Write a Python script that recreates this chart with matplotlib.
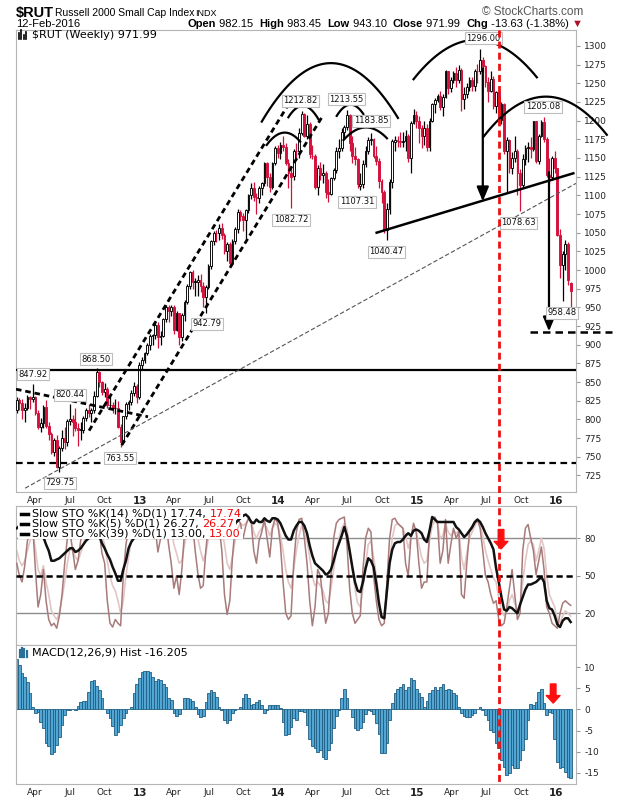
import numpy as np
import pandas as pd
import matplotlib
matplotlib.use("Agg")
import matplotlib.pyplot as plt
import matplotlib.dates as mdates
from matplotlib.lines import Line2D
from matplotlib.patches import Rectangle
from matplotlib.transforms import blended_transform_factory

plt.rcParams['font.family'] = ['DejaVu Sans']
plt.rcParams['axes.unicode_minus'] = False

# weekly $RUT candles (Feb 2012 .. 12 Feb 2016)
opens = [
    812, 826, 822, 812, 815, 830, 827, 830, 808, 790,
    795, 817, 791, 781, 756, 772, 737, 762, 775, 770,
    798, 800, 797, 788, 786, 786, 802, 812, 808, 812,
    832, 864, 850, 837, 841, 819, 820, 815, 816, 790,
    770, 804, 821, 823, 836, 845, 830, 873, 880, 889,
    900, 912, 913, 926, 911, 912, 934, 951, 945, 951,
    920, 942, 910, 940, 957, 979, 998, 984, 984, 986,
    979, 964, 977, 1006, 1039, 1050, 1049, 1056, 1047, 1025,
    1035, 1010, 1039, 1055, 1078, 1073, 1067, 1080, 1100, 1110,
    1098, 1096, 1110, 1116, 1143, 1125, 1111, 1143, 1164, 1156,
    1167, 1165, 1143, 1130, 1126, 1160, 1159, 1183, 1209, 1180,
    1195, 1152, 1153, 1111, 1137, 1127, 1130, 1105, 1102, 1123,
    1134, 1160, 1163, 1185, 1191, 1208, 1170, 1152, 1148, 1112,
    1115, 1142, 1159, 1174, 1175, 1153, 1146, 1119, 1104, 1053,
    1082, 1118, 1172, 1174, 1173, 1172, 1173, 1180, 1150, 1197,
    1207, 1200, 1190, 1180, 1190, 1165, 1200, 1222, 1228, 1233,
    1218, 1232, 1266, 1243, 1254, 1264, 1254, 1268, 1229, 1236,
    1245, 1254, 1246, 1267, 1266, 1281, 1273, 1252, 1240, 1256,
    1219, 1238, 1201, 1222, 1159, 1174, 1137, 1150, 1160, 1130,
    1114, 1149, 1163, 1165, 1162, 1199, 1146, 1180, 1198, 1175,
    1127, 1125, 1150, 1136, 1047, 1007, 1021, 1035, 982.15]

highs = [
    830, 829, 827, 822, 833, 832, 847.92, 832, 813, 802,
    820, 826, 797, 783, 775, 779, 765, 786, 790, 800,
    820.44, 806, 815, 795, 797, 805, 815, 821, 816, 838,
    868.5, 865, 852, 849, 843, 834, 823, 828, 825, 794,
    805, 823, 826, 840, 850, 848, 877, 884, 890, 903,
    915, 914, 930, 930, 919, 936, 953, 953, 953, 953,
    945, 943, 942, 960, 981, 999, 1000, 990, 994, 995,
    984, 980, 1008, 1040, 1052, 1054, 1062, 1063, 1050, 1037,
    1038, 1041, 1057, 1082, 1080, 1077, 1082, 1102, 1116, 1118,
    1103, 1112, 1118, 1144, 1145, 1130, 1145, 1166, 1168, 1172,
    1180, 1170, 1148, 1136, 1162, 1170, 1190, 1212.82, 1210, 1208,
    1198, 1168, 1155, 1140, 1145, 1142, 1133, 1122, 1125, 1136,
    1165, 1175, 1190, 1194, 1213.55, 1209, 1180, 1165, 1150, 1130,
    1147, 1166, 1178, 1183.85, 1177, 1166, 1150, 1122, 1107, 1090,
    1122, 1175, 1180, 1180, 1185, 1185, 1188, 1182, 1200, 1216,
    1213, 1206, 1194, 1200, 1195, 1204, 1224, 1230, 1236, 1240,
    1235, 1268, 1267, 1258, 1267, 1272, 1275, 1270, 1245, 1251,
    1259, 1258, 1269, 1276, 1296, 1285, 1275, 1258, 1266, 1260,
    1240, 1240, 1225, 1224, 1178, 1176, 1158, 1180, 1162, 1135,
    1155, 1168, 1172, 1178, 1200, 1200, 1182, 1201, 1205.08, 1178,
    1150, 1152, 1160, 1137, 1055, 1025, 1040, 1037, 983.45]

lows = [
    808, 812, 801, 796, 813, 814, 824, 806, 787, 783,
    788, 789, 773, 754, 751, 735, 729.75, 758, 760, 765,
    793, 778, 785, 765, 772, 782, 798, 803, 796, 808,
    830, 843, 833, 830, 815, 815, 809, 807, 789, 763.55,
    768, 800, 813, 820, 832, 822, 828, 866, 876, 886,
    893, 900, 908, 895, 900, 910, 930, 930, 938, 915,
    918, 899, 905, 932, 955, 975, 975, 965, 965, 970,
    950, 942.79, 974, 1002, 1034, 1038, 1040, 1042, 1022, 1012,
    1007, 1008, 1035, 1050, 1065, 1052, 1040, 1077, 1095, 1093,
    1075, 1090, 1100, 1112, 1112, 1105, 1108, 1141, 1150, 1148,
    1160, 1140, 1110, 1082.72, 1120, 1150, 1150, 1181, 1178, 1176,
    1150, 1148, 1108, 1100, 1120, 1117, 1096, 1091, 1100, 1120,
    1130, 1150, 1160, 1175, 1188, 1160, 1143, 1140, 1110, 1107.31,
    1110, 1138, 1155, 1167, 1150, 1140, 1110, 1090, 1050, 1040.47,
    1075, 1110, 1160, 1165, 1165, 1165, 1160, 1145, 1130, 1195,
    1190, 1170, 1164, 1168, 1160, 1160, 1198, 1210, 1225, 1214,
    1206, 1230, 1235, 1238, 1250, 1245, 1250, 1213, 1215, 1230,
    1240, 1240, 1240, 1250, 1262, 1265, 1245, 1225, 1238, 1215,
    1210, 1195, 1195, 1155, 1103, 1130, 1128, 1145, 1100, 1078.63,
    1110, 1140, 1145, 1150, 1160, 1143, 1142, 1178, 1172, 1125,
    1115, 1120, 1130, 1045, 990, 958.48, 1000, 980, 943.10]

closes = [
    826, 822, 812, 815, 830, 827, 830, 808, 790, 795,
    817, 791, 781, 756, 772, 737, 762, 775, 770, 798,
    800, 797, 788, 786, 786, 802, 812, 808, 812, 832,
    864, 850, 837, 841, 819, 820, 815, 816, 790, 770,
    804, 821, 823, 836, 845, 830, 873, 880, 889, 900,
    912, 913, 926, 911, 912, 934, 951, 945, 951, 920,
    942, 910, 940, 957, 979, 998, 984, 984, 986, 979,
    964, 977, 1006, 1039, 1050, 1049, 1056, 1047, 1025, 1035,
    1010, 1039, 1055, 1078, 1073, 1067, 1080, 1100, 1110, 1098,
    1096, 1110, 1116, 1143, 1125, 1111, 1143, 1164, 1156, 1167,
    1165, 1143, 1130, 1124, 1160, 1159, 1183, 1209, 1180, 1195,
    1155, 1153, 1111, 1137, 1127, 1130, 1105, 1102, 1123, 1134,
    1160, 1163, 1185, 1191, 1208, 1170, 1152, 1148, 1115, 1115,
    1142, 1159, 1174, 1175, 1153, 1146, 1119, 1104, 1053, 1082,
    1118, 1173, 1174, 1173, 1172, 1173, 1180, 1150, 1197, 1207,
    1200, 1190, 1180, 1190, 1165, 1200, 1222, 1228, 1233, 1218,
    1232, 1266, 1243, 1254, 1264, 1254, 1268, 1229, 1236, 1245,
    1254, 1246, 1267, 1266, 1281, 1273, 1252, 1240, 1256, 1219,
    1238, 1201, 1222, 1159, 1174, 1137, 1150, 1160, 1130, 1114,
    1149, 1163, 1165, 1162, 1199, 1146, 1180, 1198, 1175, 1127,
    1125, 1150, 1136, 1047, 1007, 1021, 1035, 986, 971.99]

# slow stochastics
sto_k39 = [
    88, 90, 88, 86, 88, 90, 92, 88, 84, 82,
    81, 75, 70, 62, 62, 63, 64, 66, 68, 70,
    72, 72, 69, 70, 72, 75, 78, 80, 84, 88,
    88, 82, 76, 72, 67, 63, 57, 52, 46, 46,
    55, 62, 72, 77, 80, 84, 88, 92, 94, 95,
    96, 96, 97, 96, 95, 96, 97, 96, 95, 90,
    88, 86, 87, 90, 93, 95, 94, 86, 90, 93,
    94, 96, 97, 99, 98, 96, 96, 95, 90, 87,
    85, 88, 92, 94, 96, 98, 99, 97, 93, 92,
    95, 93, 93, 96, 94, 93, 96, 96, 95, 92,
    87, 82, 79, 79, 86, 90, 93, 93, 90, 84,
    74, 66, 60, 58, 56, 54, 51, 52, 55, 62,
    70, 76, 82, 89, 82, 70, 57, 45, 38, 37,
    45, 56, 64, 62, 57, 44, 28, 17, 16, 38,
    60, 71, 76, 77, 77, 79, 82, 84, 82, 86,
    87, 86, 84, 79, 77, 86, 97, 95, 93, 93,
    93, 93, 93, 93, 93, 89, 87, 84, 81, 83,
    86, 89, 93, 95, 93, 89, 84, 80, 76, 71,
    56, 45, 33, 23, 22, 25, 24, 22, 20, 27,
    33, 39, 43, 43, 44, 45, 47, 49, 45, 30,
    24, 23, 18, 11, 9, 14, 16, 16, 13.00]

sto_k14 = [
    70, 62, 58, 62, 70, 78, 85, 72, 55, 50,
    58, 45, 35, 22, 18, 15, 20, 32, 45, 60,
    72, 70, 65, 62, 68, 75, 82, 85, 88, 92,
    95, 90, 82, 75, 62, 50, 42, 38, 30, 20,
    30, 50, 65, 78, 85, 88, 92, 95, 96, 97,
    96, 94, 92, 88, 85, 88, 92, 90, 88, 75,
    68, 60, 62, 75, 85, 92, 94, 88, 80, 70,
    62, 68, 80, 90, 95, 96, 94, 88, 75, 60,
    55, 65, 78, 88, 92, 90, 92, 95, 94, 85,
    80, 85, 88, 92, 88, 82, 88, 92, 90, 82,
    70, 55, 45, 40, 55, 70, 82, 90, 85, 78,
    65, 50, 42, 45, 42, 38, 30, 28, 40, 55,
    70, 80, 88, 92, 88, 72, 55, 40, 28, 25,
    40, 60, 75, 78, 65, 50, 32, 18, 15, 35,
    60, 80, 90, 92, 90, 88, 82, 72, 80, 88,
    85, 75, 65, 60, 62, 78, 90, 94, 92, 80,
    82, 92, 85, 82, 86, 84, 86, 65, 55, 68,
    80, 85, 90, 94, 90, 82, 70, 62, 55, 48,
    45, 32, 22, 18, 22, 30, 35, 28, 22, 25,
    45, 62, 75, 78, 75, 62, 70, 80, 72, 50,
    35, 30, 25, 15, 12, 18, 22, 20, 17.74]

sto_k5 = [
    60, 50, 45, 58, 78, 85, 90, 55, 25, 35,
    55, 30, 15, 10, 12, 8, 18, 35, 60, 80,
    85, 70, 55, 62, 78, 88, 90, 88, 85, 92,
    96, 85, 68, 60, 30, 12, 9, 15, 12, 10,
    50, 75, 88, 90, 95, 88, 95, 97, 98, 98,
    96, 90, 88, 69, 80, 92, 95, 75, 60, 40,
    50, 35, 55, 85, 95, 98, 92, 70, 52, 40,
    42, 70, 92, 97, 96, 95, 90, 70, 35, 19,
    30, 65, 90, 95, 92, 80, 90, 96, 94, 70,
    60, 78, 85, 95, 80, 65, 88, 96, 92, 75,
    45, 20, 15, 18, 60, 85, 95, 96, 80, 60,
    30, 10, 25, 55, 50, 30, 12, 20, 50, 80,
    92, 95, 96, 97, 75, 40, 20, 12, 15, 18,
    55, 80, 88, 85, 50, 30, 15, 10, 12, 45,
    80, 95, 96, 92, 90, 88, 60, 50, 80, 92,
    85, 60, 40, 45, 45, 85, 95, 97, 92, 60,
    70, 95, 60, 75, 88, 80, 85, 35, 32, 60,
    85, 88, 92, 95, 88, 70, 50, 45, 35, 28,
    30, 15, 10, 12, 25, 40, 55, 35, 15, 20,
    70, 88, 91, 80, 70, 51, 62, 73, 55, 25,
    20, 12, 10, 8, 20, 28, 30, 28, 26.27]

# MACD(12,26,9) histogram
macd_hist = [
    12.0, 10.5, 8.5, 7.7, 6.5, 3.8, 0.6, -0.8, -0.6, -2.9,
    -4.3, -8.0, -8.7, -10.6, -10.0, -8.4, -6.6, -3.7, -1.3, -0.2,
    -0.2, 0.2, -0.2, 0.8, 1.8, 2.0, 2.0, 4.0, 6.8, 6.9,
    5.6, 4.6, 2.6, 0.2, -0.9, -2.0, -3.9, -6.1, -5.3, -3.7,
    -2.1, -0.9, 0.2, 0.6, 3.8, 6.1, 7.3, 8.9, 9.1, 9.1,
    8.9, 7.7, 6.8, 7.1, 6.9, 6.0, 5.4, 2.8, 2.2, -0.9,
    -1.6, -1.1, 0.2, 2.6, 2.6, 2.4, 2.0, 0.6, -1.1, -1.9,
    -1.6, 1.8, 3.8, 4.6, 4.2, 3.0, 0.6, -0.2, -2.4, -3.3,
    -2.5, -0.8, -0.2, 0.2, 0.6, 2.6, 3.6, 2.6, 1.0, 1.3,
    1.8, 2.2, 1.0, -0.8, -0.2, 1.0, 1.0, 1.0, 1.0, 0.3,
    -2.9, -6.1, -5.8, -4.1, -2.0, -2.5, -0.4, -0.3, -0.6, -3.7,
    -6.9, -8.7, -9.2, -10.0, -9.6, -11.2, -11.6, -9.6, -8.0, -4.5,
    -1.6, -0.2, 2.6, 4.7, 2.6, 0.2, -1.7, -4.5, -4.9, -4.3,
    -2.9, -1.1, -0.2, -0.3, -1.1, -3.3, -5.7, -10.4, -10.4, -8.0,
    -2.5, 1.4, 3.8, 4.7, 5.4, 6.1, 4.6, 5.4, 7.3, 6.9,
    4.7, 3.8, 3.0, 0.6, 2.0, 3.8, 4.6, 5.2, 4.6, 5.4,
    6.1, 4.6, 4.7, 4.6, 3.8, 3.4, 0.6, -0.8, -1.6, -1.9,
    -1.9, -1.3, -0.9, 0.2, 0.6, -0.2, -1.3, -2.5, -4.9, -5.3,
    -8.0, -9.0, -12.0, -13.5, -15.5, -15.1, -13.1, -13.9, -13.9, -12.0,
    -9.6, -6.9, -2.5, 1.3, 1.0, 1.8, 4.2, 4.7, 1.4, -1.3,
    -0.6, -0.9, -6.9, -12.4, -13.9, -13.5, -14.7, -15.9, -16.205]

# labelled swing points: (text, date, price of the box)
swing_labels = [
    ('1296.00', '2015-06-23', 1310.5), ('1212.82', '2014-02-28', 1226.3),
    ('1213.55', '2014-06-28', 1228.4), ('1183.85', '2014-09-01', 1199.6),
    ('1082.72', '2014-02-03', 1067.6), ('1107.31', '2014-07-26', 1091.1),
    ('1040.47', '2014-10-12', 1024.8), ('1205.08', '2015-11-27', 1218.3),
    ('1078.63', '2015-09-24', 1063.6), ('958.48', '2016-01-16', 943.1),
    ('942.79', '2013-06-26', 928.4), ('868.50', '2012-09-08', 880.8),
    ('847.92', '2012-03-26', 860.7), ('820.44', '2012-07-02', 833.3),
    ('763.55', '2012-11-10', 748.2), ('729.75', '2012-06-06', 715.4),
]

W, H = 620, 800
RED = '#d4103c'
ARIAL = ['Liberation Sans', 'DejaVu Sans']

weeks = pd.date_range('2012-02-13', periods=len(closes), freq='7D')
x = mdates.date2num(weeks)
o, h, l, c = (np.array(v, dtype=float) for v in (opens, highs, lows, closes))


def d(s):
    return mdates.date2num(pd.Timestamp(s))


def frame(left, top, right, bottom):
    return [left / W, 1 - bottom / H, (right - left) / W, (bottom - top) / H]


fig = plt.figure(figsize=(6.2, 8), dpi=100)
ax = fig.add_axes(frame(16, 30, 576, 491.7))
ax_sto = fig.add_axes(frame(16, 506, 576, 645))
ax_macd = fig.add_axes(frame(16, 645, 576, 784))

for a in (ax, ax_sto, ax_macd):
    a.set_xlim(d('2012-02-11'), d('2016-02-22'))
    for s in a.spines.values():
        s.set_color('#b4b4b4')
    a.yaxis.tick_right()
    a.tick_params(axis='y', labelsize=6.5, length=3, color='#999999', pad=3, labelcolor='#222222')
    a.tick_params(axis='x', length=0, labelsize=6.5, pad=3, labelcolor='#222222')

# candles: colour vs previous close, hollow when close > open
prev = np.concatenate([[c[0]], c[:-1]])
col = np.where(c >= prev, 'black', RED)
face = np.where(c > o, 'white', col)
ax.vlines(x, l, h, colors=list(col), lw=0.9, zorder=2)
ax.bar(x, np.maximum(np.abs(c - o), 0.8), bottom=np.minimum(o, c), width=4.6,
       color=list(face), edgecolor=list(col), linewidth=0.65, zorder=3)
ax.set_ylim(703.3, 1321.3)
ax.set_yticks(np.arange(725, 1301, 25))

# hand drawn trend lines, arcs and targets
ax.axhline(866.5, color='black', lw=1.6, zorder=4)
ax.axhline(742, color='black', lw=1.6, ls=(0, (3, 2)), zorder=4)
heavy = dict(color='black', lw=2.0, ls=(0, (2, 1.4)), zorder=4)
ax.plot([d('2012-02-11'), d('2013-01-23')], [840.5, 803.6], **heavy)
ax.plot([d('2012-08-21'), d('2014-01-31')], [785, 1225], **heavy)
ax.plot([d('2012-11-15'), d('2014-04-28')], [765.6, 1207], **heavy)
ax.plot([d('2012-03-06'), d('2016-02-22')], [708, 1116], color='#555555', lw=0.8,
        ls=(0, (4, 2)), zorder=4)
ax.plot([d('2014-09-16'), d('2016-02-15')], [1050, 1129.5], color='black', lw=1.8, zorder=4)
ax.plot([d('2015-10-24'), d('2016-05-27')], [917.5, 917.5], color='black', lw=1.8,
        ls=(0, (3, 2)), zorder=4, clip_on=False)


def arc(start, top, end):
    xs = np.array([d(start[0]), d(top[0]), d(end[0])])
    ys = [start[1], top[1], end[1]]
    coef = np.polyfit(xs - xs[1], ys, 2)
    xx = np.linspace(xs[0], xs[2], 80)
    ax.plot(xx, np.polyval(coef, xx - xs[1]), color='black', lw=1.6, zorder=4, clip_on=False)


arc(('2013-11-18', 1198.7), ('2014-05-11', 1276.8), ('2014-11-11', 1203.6))
arc(('2013-12-01', 1167.4), ('2013-12-31', 1181.7), ('2014-02-27', 1171.9))
arc(('2014-01-27', 1204.5), ('2014-03-03', 1219.6), ('2014-04-16', 1201.8))
arc(('2014-06-03', 1206.3), ('2014-07-04', 1221.0), ('2014-08-12', 1208.9))
arc(('2014-06-21', 1174.0), ('2014-09-03', 1189.8), ('2014-10-13', 1176.4))
arc(('2014-12-22', 1255.4), ('2015-05-28', 1308.0), ('2015-11-11', 1258.0))
arc(('2015-06-24', 1178.5), ('2015-11-28', 1232.0), ('2016-05-13', 1181.0))

down = dict(arrowstyle='-|>,head_width=0.36,head_length=0.86', color='black', lw=1.6,
            shrinkA=0, shrinkB=0, mutation_scale=10)
ax.annotate('', xy=(d('2015-06-22'), 1092), xytext=(d('2015-06-22'), 1270), arrowprops=down, zorder=5)
ax.annotate('', xy=(d('2015-12-13'), 918), xytext=(d('2015-12-13'), 1131), arrowprops=down, zorder=5)

for txt, when, price in swing_labels:
    ax.text(d(when), price, txt, ha='center', va='center', fontsize=6, color='#111111', zorder=6,
            bbox=dict(boxstyle='square,pad=0.18', fc='white', ec='#bdbdbd', lw=0.8))

# x axis month labels
qs = pd.date_range('2012-04-01', '2016-01-01', freq='QS')
qlabels = [t.strftime('%y') if t.month == 1 else t.strftime('%b') for t in qs]
for a in (ax, ax_macd):
    a.set_xticks(mdates.date2num(qs))
    a.set_xticklabels(qlabels)
    for t, lab in zip(qs, a.get_xticklabels()):
        if t.month == 1:
            lab.set_fontweight('bold')
            lab.set_fontsize(7.5)
ax_sto.set_xticks([])

# stochastics panel
ax_sto.set_ylim(-5.4, 105.8)
ax_sto.set_yticks([20, 50, 80])
ax_sto.axhline(80, color='#8c8c8c', lw=1, zorder=1)
ax_sto.axhline(20, color='#8c8c8c', lw=1, zorder=1)
ax_sto.plot(x, sto_k14, color='#e3c6c6', lw=1.2, zorder=2)
ax_sto.plot(x, sto_k5, color='#a87a7a', lw=1.1, zorder=3)
ax_sto.plot(x, sto_k39, color='#111111', lw=1.8, zorder=4)
ax_sto.axhline(50, color='black', lw=1.8, ls=(0, (2.5, 1.5)), zorder=5)
red_arrow = dict(arrowstyle='simple,head_length=0.6,head_width=1.1,tail_width=0.45',
                 color='#ff1010', shrinkA=0, shrinkB=0, mutation_scale=9)
ax_sto.annotate('', xy=(d('2015-08-09'), 71.5), xytext=(d('2015-08-09'), 87), arrowprops=red_arrow, zorder=7)

# MACD panel
ax_macd.bar(x, macd_hist, width=7, color='#52a6d3', edgecolor='#1f5e82', linewidth=0.6, zorder=2)
ax_macd.set_ylim(-17.6, 15.2)
ax_macd.set_yticks([-15, -10, -5, 0, 5, 10])
ax_macd.annotate('', xy=(d('2015-12-24'), 1.5), xytext=(d('2015-12-24'), 6.0), arrowprops=red_arrow, zorder=7)

# red vertical marker through all panels
blend = blended_transform_factory(ax.transData, fig.transFigure)
fig.add_artist(Line2D([d('2015-08-04')] * 2, [1 - 30 / H, 1 - 784 / H], transform=blend,
                      color='#ee1111', lw=2, ls=(0, (2.5, 1.5)), zorder=20))

renderer = fig.canvas.get_renderer()


def row(x0, y0, pieces, size=8, family='DejaVu Sans', align='left'):
    seq = pieces if align == 'left' else pieces[::-1]
    pos = x0
    for txt, color, weight in seq:
        t = fig.text(pos / W, 1 - y0 / H, txt, color=color, fontweight=weight, fontsize=size,
                     family=family, va='center', ha=align, zorder=25)
        wdt = t.get_window_extent(renderer).width
        pos = pos + wdt if align == 'left' else pos - wdt
    return pos


def fig_line(xs, ys, **kw):
    fig.add_artist(Line2D([v / W for v in xs], [1 - v / H for v in ys], transform=fig.transFigure, zorder=26, **kw))


# header
fig.text(16 / W, 1 - 13 / H, '$RUT', fontsize=10.5, fontweight='bold', family=ARIAL, va='center')
fig.text(55 / W, 1 - 13 / H, 'Russell 2000 Small Cap Index', fontsize=7.5, family=ARIAL, va='center')
fig.text(195 / W, 1 - 13.5 / H, 'INDX', fontsize=6.5, family=ARIAL, va='center')
fig.text(583 / W, 1 - 12 / H, '\u00a9 StockCharts.com', fontsize=8.5, color='#555555',
         family=ARIAL, va='center', ha='right')
fig.text(16 / W, 1 - 24 / H, '12-Feb-2016', fontsize=8, family=ARIAL, va='center')
row(583, 24, [('Open', 'black', 'bold'), (' 982.15  ', 'black', 'normal'),
              ('High', 'black', 'bold'), (' 983.45  ', 'black', 'normal'),
              ('Low', 'black', 'bold'), (' 943.10  ', 'black', 'normal'),
              ('Close', 'black', 'bold'), (' 971.99  ', 'black', 'normal'),
              ('Chg', 'black', 'bold'), (' -13.63 (-1.38%) ', 'black', 'normal'),
              ('\u25bc', '#b0102a', 'normal')],
    size=8, family=ARIAL, align='right')

# panel legends
for k, hgt in enumerate([6, 9, 4, 7]):
    fig_line([19 + 2.3 * k] * 2, [39, 39 - hgt], color='black', lw=1.2)
row(32, 35, [('$RUT (Weekly) 971.99', 'black', 'normal')], size=8)

sto_rows = [('Slow STO %K(14) %D(1) 17.74, ', '17.74'),
            ('Slow STO %K(5) %D(1) 26.27, ', '26.27'),
            ('Slow STO %K(39) %D(1) 13.00, ', '13.00')]
for k, (txt, val) in enumerate(sto_rows):
    yy = 514 + 10 * k
    end = row(32, yy, [(txt, 'black', 'normal'), (val, '#ee0000', 'normal')], size=8)
    fig.add_artist(Rectangle((18 / W, 1 - (yy + 5) / H), (end + 2 - 18) / W, 10 / H,
                             transform=fig.transFigure, fc='white', ec='none', zorder=24))
    fig_line([21, 28], [yy, yy], color='black', lw=2.5)

for k, hgt in enumerate([7, 9, 8, 6]):
    fig_line([20 + 2.2 * k] * 2, [657, 657 - hgt], color='#2a6f96', lw=1.6)
row(32, 652.5, [('MACD(12,26,9) Hist -16.205', 'black', 'normal')], size=8)

fig.savefig('out.png', dpi=100)
